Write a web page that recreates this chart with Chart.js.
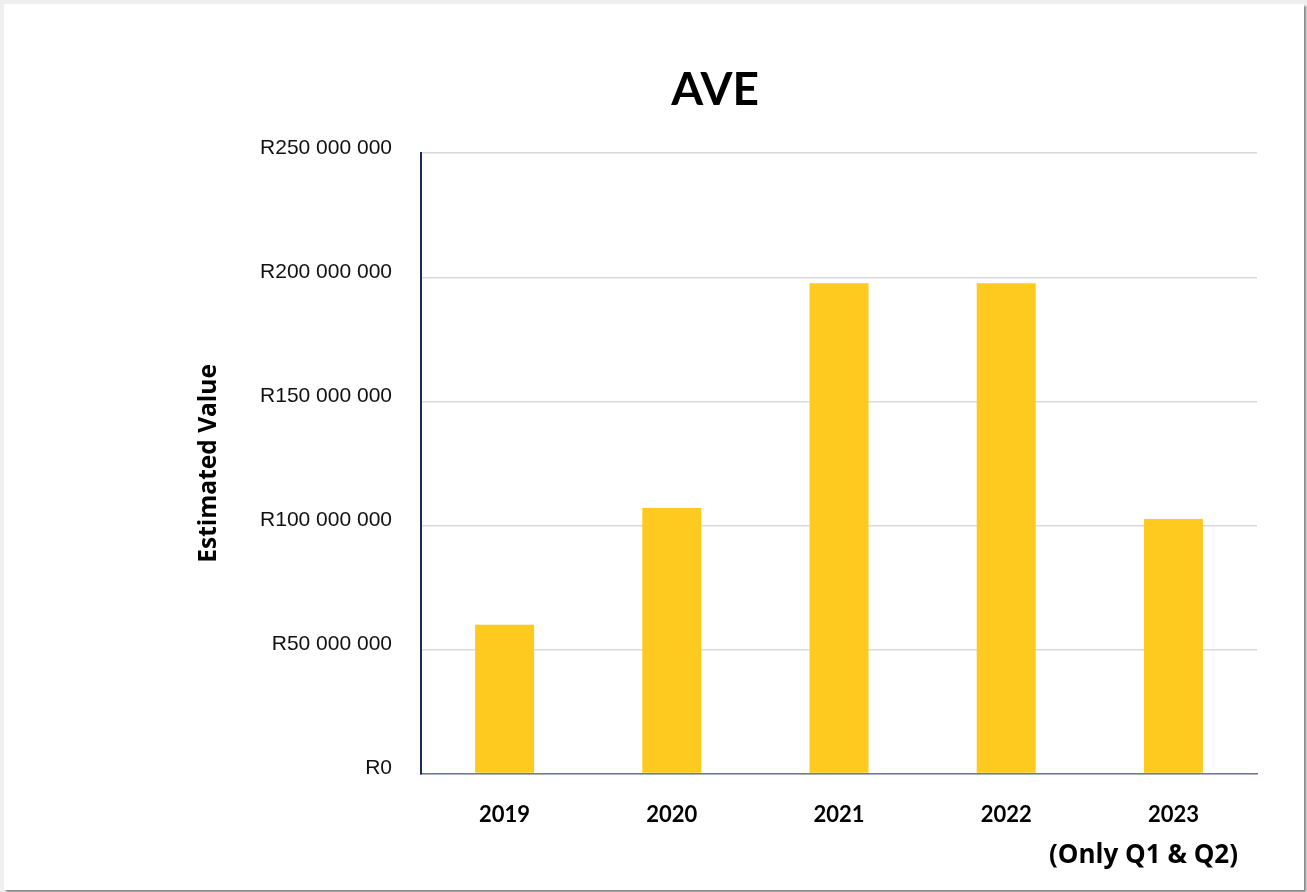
<!DOCTYPE html>
<html>
<head>
<meta charset="utf-8">
<title>AVE</title>
<script src="https://cdn.jsdelivr.net/npm/chart.js@4.4.0/dist/chart.umd.min.js"></script>
<style>
    html, body { margin: 0; padding: 0; background: #efefef; }
    #card {
        position: absolute; left: 4px; top: 4px; width: 1300px; height: 886px;
        background: #fff; box-shadow: 2px 2px 2px rgba(0, 0, 0, 0.45);
    }
    #wrap { position: absolute; left: 0; top: 0; width: 1307px; height: 892px; }
</style>
</head>
<body>
<div id="card"></div>
<div id="wrap"><canvas id="ave-chart" width="1307" height="892"></canvas></div>
<script>
var years = ['2019', '2020', '2021', '2022', '2023'];
var aveValues = [60000000, 107000000, 197600000, 197600000, 102600000];
var yTicks = [0, 50000000, 100000000, 150000000, 200000000, 250000000];
var footNote = '(Only Q1 & Q2)';

// Rand with space as thousands separator: R50 000 000
function formatRand(value) {
    return 'R' + String(value).replace(/\B(?=(\d{3})+(?!\d))/g, ' ');
}

// extra line under the 2023 label
var footNotePlugin = {
    id: 'footNote',
    afterDraw: function(chart) {
        var ctx = chart.ctx;
        var x = chart.scales.x;
        ctx.save();
        ctx.font = 'bold 26px "Open Sans"';
        ctx.fillStyle = '#000';
        ctx.textAlign = 'right';
        ctx.textBaseline = 'middle';
        ctx.fillText(footNote, x.right - 19, x.top + 82);
        ctx.restore();
    }
};

var aveChart = new Chart(document.getElementById('ave-chart'), {
    type: 'bar',
    data: {
        labels: years,
        datasets: [{
            label: 'AVE',
            data: aveValues,
            backgroundColor: '#ffca20',
            categoryPercentage: 1,
            barPercentage: 0.353
        }]
    },
    plugins: [footNotePlugin],
    options: {
        responsive: false,
        animation: false,
        layout: { padding: { left: 173, right: 50, top: 0, bottom: 36 } },
        plugins: {
            legend: { display: false },
            tooltip: { enabled: false },
            title: {
                display: true,
                text: 'AVE',
                color: '#000',
                font: { family: 'Lato', size: 46, weight: 'bold' },
                padding: { top: 63, bottom: 35 }
            }
        },
        scales: {
            x: {
                grid: { display: false, drawTicks: false },
                border: { display: true, color: '#6d7896', width: 1.5 },
                ticks: {
                    color: '#000',
                    padding: 28,
                    font: { family: 'Lato', size: 22, weight: 'bold' }
                }
            },
            y: {
                min: 0,
                max: 250000000,
                afterBuildTicks: function(scale) {
                    scale.ticks = yTicks.map(function(v) { return { value: v }; });
                },
                afterFit: function(scale) { scale.width = 248; },
                grid: { color: '#d9d9d9', lineWidth: 1.5, drawTicks: false },
                border: { display: true, color: '#1b2a57', width: 2 },
                ticks: {
                    color: '#111',
                    padding: 29,
                    labelOffset: -5,
                    font: { family: 'Liberation Sans', size: 21 },
                    callback: function(value) { return formatRand(value); }
                },
                title: {
                    display: true,
                    text: 'Estimated Value',
                    color: '#000',
                    padding: { top: 21, bottom: 0 },
                    font: { family: 'Open Sans', size: 24.5, weight: 'bold' }
                }
            }
        }
    }
});
</script>
</body>
</html>
